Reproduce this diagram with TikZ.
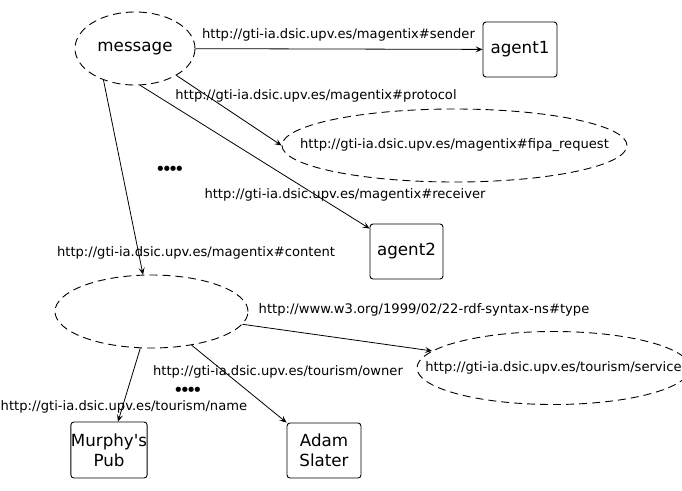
\documentclass[tikz,border=0pt]{standalone}
\usepackage{fontspec}
\setmainfont{DejaVu Sans}
\usetikzlibrary{arrows.meta,shapes.geometric}

\newcommand{\dotrow}{•\kern-4.3pt•\kern-4.3pt•\kern-4.3pt•}

\begin{document}
\begin{tikzpicture}[x=1pt,y=-1pt,
  oval/.style={draw,ellipse,dash pattern=on 8pt off 5pt,line width=0.9pt,inner sep=0pt,minimum width=#1,minimum height=73pt},
  box/.style={draw,rounded corners=3pt,line width=0.9pt,align=center,inner sep=0pt,minimum width=74pt,minimum height=55pt,font=\fontsize{16.7}{20}\selectfont},
  lbl/.style={inner sep=0pt,font=\fontsize{13.1}{15.7}\selectfont},
  dots/.style={inner sep=0pt,font=\fontsize{18}{18}\selectfont},
  arr/.style={-{Stealth[length=7pt,width=6pt,inset=3pt]},line width=0.8pt}]
\useasboundingbox (0,0) rectangle (682,490);
% resources
\node[oval=120pt,font=\fontsize{16.7}{20}\selectfont] (msg) at (135,48.5) {message};
\node[box] (agentA) at (520,49.5) {agent1};
\node[oval=345pt,label={[lbl]center:http://gti-ia.dsic.upv.es/magentix\#fipa\_request}] (fipa) at (454.5,145.5) {};
\node[box,minimum width=73pt] (agentB) at (406.5,251.5) {agent2};
\node[oval=193pt] (cont) at (151.5,311.5) {};
\node[oval=273pt,label={[lbl]center:http://gti-ia.dsic.upv.es/tourism/service}] (serv) at (553.5,368) {};
\node[box,minimum width=76pt,minimum height=56pt] (pub) at (109,450) {Murphy\textquotesingle s\\Pub};
\node[box] (adam) at (324,450.5) {Adam\\Slater};
% property labels
\node[lbl] (lsend) at (338.5,35) {http://gti-ia.dsic.upv.es/magentix\#sender};
\node[lbl] (lprot) at (316,96) {http://gti-ia.dsic.upv.es/magentix\#protocol};
\node[lbl] (lrecv) at (345,195) {http://gti-ia.dsic.upv.es/magentix\#receiver};
\node[lbl] (lcont) at (196,253) {http://gti-ia.dsic.upv.es/magentix\#content};
\node[lbl] (ltype) at (424,310) {http://www.w3.org/1999/02/22-rdf-syntax-ns\#type};
\node[lbl] (lowner) at (278,372) {http://gti-ia.dsic.upv.es/tourism/owner};
\node[lbl,anchor=west] (lname) at (0.5,407) {http://gti-ia.dsic.upv.es/tourism/name};
\node[dots] (dotsA) at (170,171) {\dotrow};
\node[dots] (dotsB) at (188,392) {\dotrow};
% edges
\draw[arr] (msg) -- (agentA);
\draw[arr] (msg.-33) -- (fipa.west);
\draw[arr] (msg.-82) -- ([yshift=-5pt]agentB.north west);
\draw[arr] (msg.-135) -- (cont.103);
\draw[arr] (cont.-8) -- (serv.172);
\draw[arr] (cont.-40) -- (adam.north west);
\draw[arr] (cont.-107) -- ([xshift=9pt]pub.north);
\end{tikzpicture}
\end{document}
